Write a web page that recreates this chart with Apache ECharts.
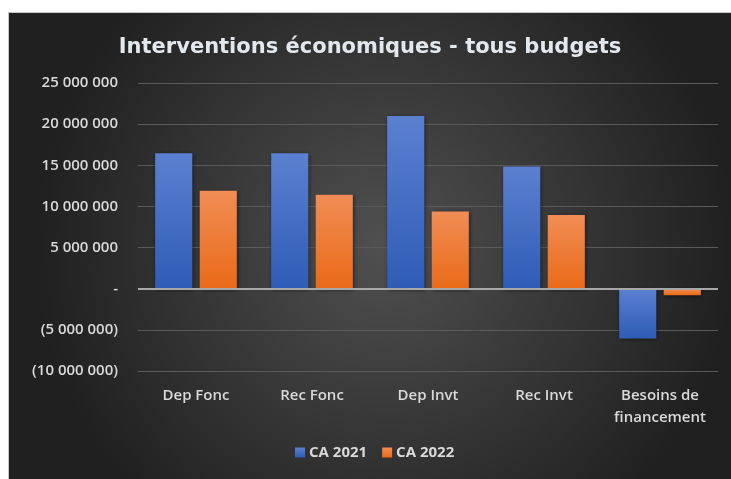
<!DOCTYPE html>
<html>
<head>
<meta charset="utf-8">
<script src="https://cdn.jsdelivr.net/npm/echarts@6/dist/echarts.min.js"></script>
<style>
html,body{margin:0;padding:0;background:#fff;width:731px;height:479px;overflow:hidden;}
#frame{position:absolute;left:8px;top:12px;width:723px;height:467px;border-top:1px solid #c8c8c8;border-left:1px solid #c8c8c8;box-sizing:border-box;}
#chart{position:absolute;left:0;top:0;width:100%;height:100%;}
</style>
</head>
<body>
<div id="frame"><div id="chart"></div></div>
<script>
const titleText = "Interventions économiques - tous budgets";
const categories = ["Dep Fonc", "Rec Fonc", "Dep Invt", "Rec Invt", "Besoins de\nfinancement"];
const seriesNames = ["CA 2021", "CA 2022"];
const ca2021 = [16450000, 16450000, 21000000, 14850000, -6050000];
const ca2022 = [11900000, 11420000, 9390000, 8950000, -790000];
const yMin = -10000000, yMax = 25000000, yStep = 5000000;

function fmt(v){
  if (v === 0) return "-";
  const s = Math.abs(v).toString().replace(/\B(?=(\d{3})+(?!\d))/g, " ");
  return v < 0 ? "(" + s + ")" : s;
}
function grad(top, bottom){
  return new echarts.graphic.LinearGradient(0,0,0,1,[{offset:0,color:top},{offset:1,color:bottom}], false);
}
const lblFont = {color:'#d9d9d9', fontFamily:'Open Sans', fontWeight:600, fontSize:15};
const chart = echarts.init(document.getElementById('chart'));
chart.setOption({
  backgroundColor: new echarts.graphic.RadialGradient(0.52, 0.5, 0.75, [
    {offset:0, color:'#505050'}, {offset:1, color:'#202020'}
  ]),
  animation:false,
  title:{
    text:titleText, left:'center', top:19,
    textStyle:{color:'#e3e8ee', fontFamily:'DejaVu Sans', fontWeight:'bold', fontSize:21}
  },
  legend:{
    data:seriesNames, bottom:14, left:281, itemWidth:10, itemHeight:10, itemGap:15,
    icon:'rect',
    textStyle:Object.assign({}, lblFont, {fontWeight:'bold', padding:[0,0,0,-1]})
  },
  grid:{left:129, right:13, top:70, bottom:108, containLabel:false, outerBoundsMode:'none'},
  xAxis:{
    type:'category', data:categories,
    axisLine:{show:false}, axisTick:{show:false},
    axisLabel:Object.assign({}, lblFont, {margin:14, lineHeight:22, interval:0, hideOverlap:false})
  },
  yAxis:{
    type:'value', min:yMin, max:yMax, interval:yStep,
    axisLine:{show:false}, axisTick:{show:false},
    splitLine:{lineStyle:{color:'#5a5a5a', width:1}},
    axisLabel:Object.assign({}, lblFont, {margin:20, formatter:fmt})
  },
  series:[
    {name:seriesNames[0], type:'bar', data:ca2021, barWidth:'32%', barGap:'20%',
     itemStyle:{color:grad('#5b80d0','#2f5cb6'), shadowBlur:4, shadowColor:'rgba(0,0,0,0.5)', shadowOffsetX:1, shadowOffsetY:1},
     markLine:{silent:true, symbol:'none', label:{show:false}, lineStyle:{color:'#a8a8a8', width:2, type:'solid'}, data:[{yAxis:0}]}
    },
    {name:seriesNames[1], type:'bar', data:ca2022, barWidth:'32%', barGap:'20%',
     itemStyle:{color:grad('#f18d55','#e96a18'), shadowBlur:4, shadowColor:'rgba(0,0,0,0.5)', shadowOffsetX:1, shadowOffsetY:1}
    }
  ]
});
</script>
</body>
</html>
